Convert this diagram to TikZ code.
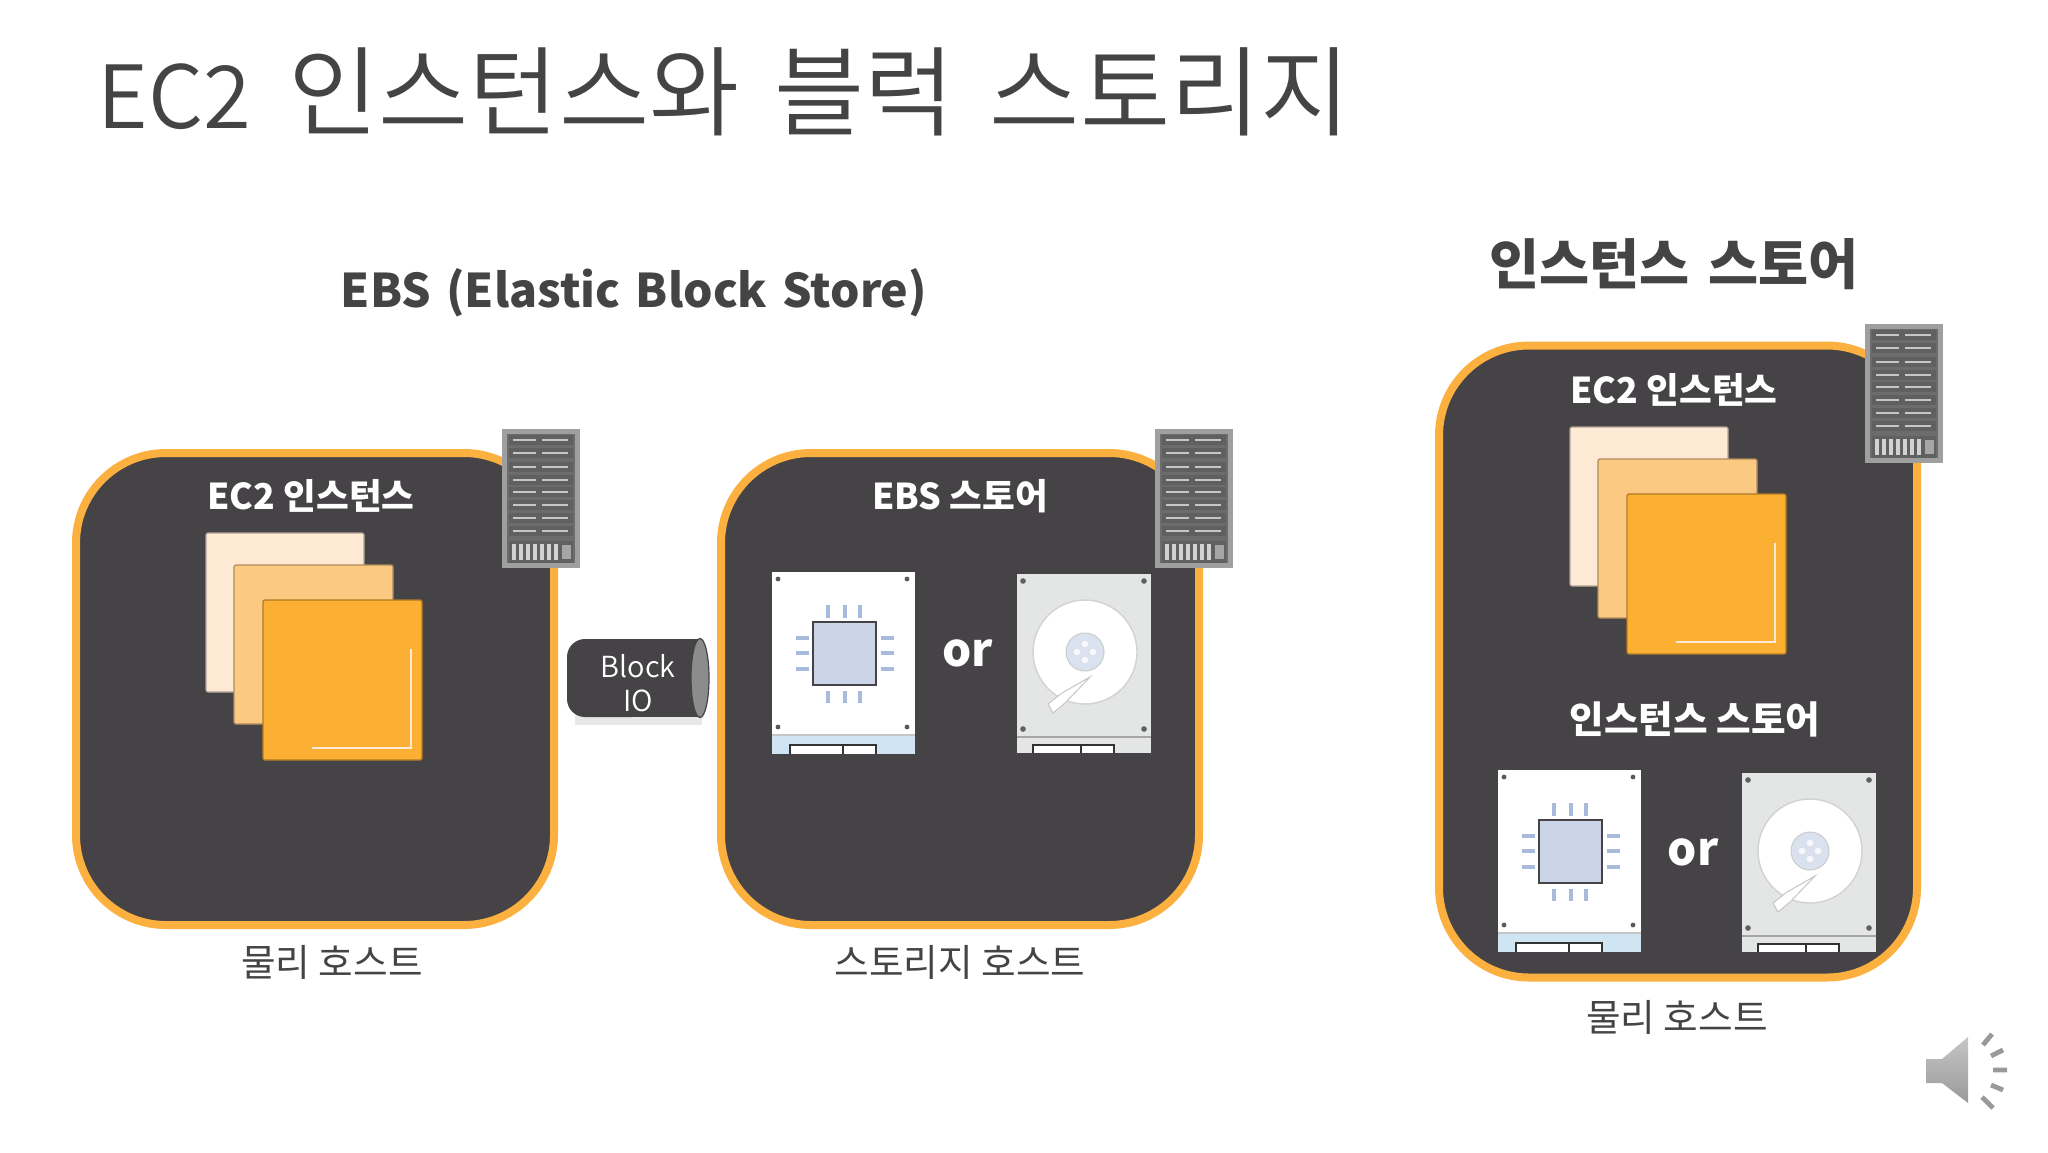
\documentclass[tikz,border=0pt]{standalone}
\usepackage{fontspec}
\setmainfont{Noto Sans CJK KR}
\newfontfamily\krlight{Noto Sans CJK KR DemiLight}
\usetikzlibrary{shadows,calc}
\definecolor{panelgray}{HTML}{454345}
\definecolor{panelorange}{HTML}{FBB040}
\definecolor{inkgray}{HTML}{444444}
\definecolor{stackA}{HTML}{FEE9D4}
\definecolor{stackB}{HTML}{FCC982}
\definecolor{stackC}{HTML}{FBB034}
\definecolor{chipblue}{HTML}{CBD5E8}
\definecolor{pinblue}{HTML}{A9BBDD}
\definecolor{bandblue}{HTML}{CFE5F3}
\definecolor{diskgray}{HTML}{E4E5E5}
\definecolor{capgray}{HTML}{8C8C8C}
\tikzset{
  panel/.style={draw=panelorange,fill=panelgray,line width=4pt,rounded corners=45pt,inner sep=0pt},
  paneltitle/.style={text=white,font=\fontsize{17.8}{19}\selectfont\bfseries,inner sep=0pt},
  hostlabel/.style={text=inkgray,font=\fontsize{18.8}{20}\selectfont,inner sep=0pt},
  headlabel/.style={text=inkgray,font=\fontsize{23.2}{28}\selectfont\bfseries,inner sep=0pt},
  orlabel/.style={text=white,font=\fontsize{23}{26}\selectfont\bfseries,inner sep=0pt},
  sheet/.style={rounded corners=1pt,draw=#1!70!black,line width=.6pt,fill=#1},
  serverpic/.pic={
    \fill[gray!75!white] (0,0) rectangle (78,139);
    \fill[gray!85!black] (5,5) rectangle (73,134);
    \foreach \ry in {11,24,38,51,63,76,89,102}{
      \fill[gray!75!black] (7,\ry-5) rectangle (71,\ry+5);
      \draw[gray!45!white,line width=.8pt] (11,\ry) -- (34,\ry) (40,\ry) -- (66,\ry);
    }
    \fill[gray!75!black] (7,112) rectangle (71,134);
    \foreach \rx in {10,17,24,31,38,45,52}{
      \fill[gray!35!white] (\rx,115) rectangle (\rx+3.5,131);
    }
    \fill[gray!70!white] (60,116) rectangle (69,130);
  },
  stackpic/.pic={
    \path[sheet=stackA] (0,0) rectangle (158,159);
    \path[sheet=stackB] (28,32) rectangle (187,191);
    \path[sheet=stackC] (57,67) rectangle (216,227);
    \draw[stackA,line width=1.3pt] (205,116) -- (205,215) -- (106,215);
  },
  chippic/.pic={
    \fill[white] (0,0) rectangle (143,163);
    \fill[bandblue] (0,163) rectangle (143,182);
    \draw[gray!45!white,line width=.7pt] (0,163) -- (143,163);
    \fill[white] (18,173) rectangle (104,182);
    \draw[black!80,line width=.6pt] (18,182) -- (18,173) -- (104,173) -- (104,182) (71,173) -- (71,182);
    \path[fill=chipblue,draw=panelgray,line width=1pt] (41,50) rectangle (104,113);
    \foreach \p in {56,73,88}{
      \fill[pinblue] (\p-2,33) rectangle (\p+2,46);
      \fill[pinblue] (\p-2,119) rectangle (\p+2,131);
    }
    \foreach \p in {66,81,97}{
      \fill[pinblue] (24,\p-2) rectangle (37,\p+2);
      \fill[pinblue] (109,\p-2) rectangle (122,\p+2);
    }
    \foreach \sx/\sy in {6/7,135/7,6/155,135/155}{
      \fill[gray!70!black] (\sx,\sy) circle[radius=1.2pt];
    }
  },
  diskpic/.pic={
    \fill[diskgray] (0,0) rectangle (134,179);
    \draw[gray!70!white,line width=.8pt] (0,163) -- (134,163);
    \fill[white] (16,170) rectangle (97,179);
    \draw[black!80,line width=.6pt] (16,179) -- (16,171) -- (97,171) -- (97,179) (64,171) -- (64,179);
    \path[fill=white,draw=gray!35!white,line width=.7pt] (68,78) circle[radius=26pt];
    \path[fill=chipblue!70!white,draw=gray!40!white,line width=.5pt] (68,78) circle[radius=9.5pt];
    \fill[white!85!chipblue] (68,70) circle[radius=1.6pt] (68,86) circle[radius=1.6pt] (60,78) circle[radius=1.6pt] (76,78) circle[radius=1.6pt];
    \path[fill=white,draw=gray!45!white,line width=.5pt] (73,103) -- (48,129) -- (36,139) -- (31,130) -- (45,119) -- cycle;
    \foreach \sx/\sy in {6/7,127/7,6/155,127/155}{
      \fill[gray!75!black] (\sx,\sy) circle[radius=1.4pt];
    }
  },
}
\begin{document}
\begin{tikzpicture}[x=0.5pt,y=-0.5pt]
\useasboundingbox (0,0) rectangle (2048,1152);
\fill[white] (0,0) rectangle (2048,1152);

\node[anchor=base west,text=inkgray,inner sep=0pt,font=\krlight\fontsize{49}{52}\selectfont] (title) at (97,128) {{\fontsize{43.5}{50}\selectfont EC2}\hspace{.16em} 인스턴스와\hspace{.13em} 블럭\hspace{.14em} 스토리지};

\node[headlabel] (ebshead) at (634,293) {EBS\hspace{.1em} (Elastic\hspace{.1em} Block\hspace{.1em} Store)};
\node[headlabel,font=\fontsize{27.2}{30}\selectfont\bfseries] (inshead) at (1674,264) {인스턴스\hspace{.12em} 스토어};

% panels
\node[panel,minimum width=239pt,minimum height=236pt] (hostA) at (315,689) {};
\node[panel,minimum width=239pt,minimum height=236pt] (hostB) at (960,689) {};
\node[panel,minimum width=239pt,minimum height=316pt] (hostC) at (1678,661.5) {};

\pic at (502,429) {serverpic};
\pic at (1155,429) {serverpic};
\pic at (1865,324) {serverpic};

\node[paneltitle] (ec2A) at (311,496) {EC2 인스턴스};
\node[paneltitle] (ebsstore) at (960,496) {EBS 스토어};
\node[paneltitle] (ec2C) at (1674,390) {EC2 인스턴스};
\node[paneltitle,font=\fontsize{18.8}{20}\selectfont\bfseries] (insstore) at (1695,719) {인스턴스 스토어};

\pic at (206,533) {stackpic};
\pic at (1570,427) {stackpic};

\pic at (772,572) {chippic};
\pic at (1017,574) {diskpic};
\pic at (1498,770) {chippic};
\pic at (1742,773) {diskpic};

\node[orlabel] (orB) at (968,653) {or};
\node[orlabel] (orC) at (1693,852) {or};

% block IO cylinder
\fill[gray!18!white] (575,646) rectangle (702,725);
\fill[panelgray,rounded corners=9pt] (567,639) rectangle (650,717);
\fill[panelgray] (620,639) rectangle (700,717);
\path[fill=capgray,draw=panelgray,line width=.6pt] (700,678) ellipse[x radius=4.5pt,y radius=19.75pt];
\node[text=white,align=center,inner sep=0pt,font=\krlight\fontsize{14.5}{16.8}\selectfont] (blockio) at (638,683) {Block\\IO};

\node[hostlabel] (hostlabelA) at (332,962) {물리 호스트};
\node[hostlabel] (hostlabelB) at (960,962) {스토리지 호스트};
\node[hostlabel] (hostlabelC) at (1677,1017) {물리 호스트};

% speaker
\shade[top color=gray!45!white,bottom color=gray!80!white] (1926,1059) -- (1942,1059) -- (1968,1037) -- (1968,1103) -- (1942,1083) -- (1926,1083) -- cycle;
\draw[gray!80!white,line width=2.4pt]
  (1983,1045) -- (1992,1034)
  (1991,1056) -- (2003,1050)
  (1993,1070) -- (2007,1070)
  (1991,1085) -- (2003,1090)
  (1982,1097) -- (1993,1108);
\end{tikzpicture}
\end{document}
